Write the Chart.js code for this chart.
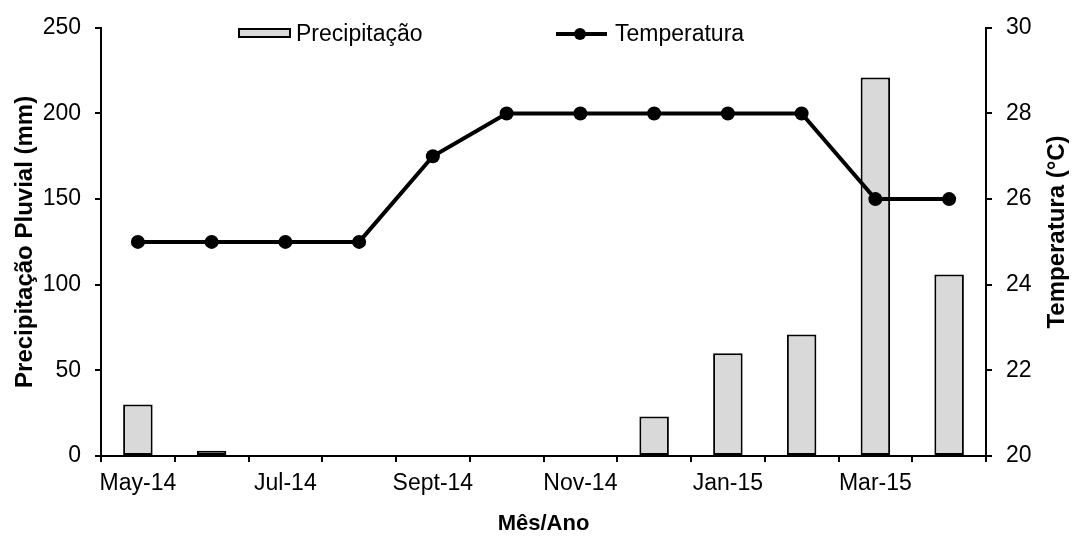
<!DOCTYPE html>
<html>
<head>
<meta charset="utf-8">
<script src="https://cdn.jsdelivr.net/npm/chart.js@4.4.1/dist/chart.umd.min.js"></script>
<style>
    body { margin: 0; background: #fff; }
    #wrap { width: 1072px; height: 536px; }
</style>
</head>
<body>
<div id="wrap"><canvas id="chart" width="1072" height="536"></canvas></div>
<script>
// Data
const months = ['May-14', 'Jun-14', 'Jul-14', 'Aug-14', 'Sept-14', 'Oct-14', 'Nov-14', 'Dec-14', 'Jan-15', 'Feb-15', 'Mar-15', 'Apr-15'];
const precipitacao = [30, 3, 0, 0, 0, 0, 0, 23, 60, 71, 221, 106];
const temperatura = [25, 25, 25, 25, 27, 28, 28, 28, 28, 28, 26, 26];
const leftTicks = [0, 50, 100, 150, 200, 250];
const rightTicks = [20, 22, 24, 26, 28, 30];

const FONT = '"Liberation Sans", Arial, sans-serif';
Chart.defaults.color = '#000';
Chart.defaults.font.family = FONT;

// Legend sits inside the plot, so draw it by hand
const insideLegend = {
    id: 'insideLegend',
    afterDraw(chart) {
        const ctx = chart.ctx;
        ctx.save();
        ctx.font = '23px ' + FONT;
        ctx.textBaseline = 'alphabetic';

        // Precipitação box
        ctx.fillStyle = '#d9d9d9';
        ctx.fillRect(239, 29, 51, 8);
        ctx.strokeStyle = '#000';
        ctx.lineWidth = 2;
        ctx.strokeRect(239, 29, 51, 8);
        ctx.fillStyle = '#000';
        ctx.fillText('Precipitação', 296, 41);

        // Temperatura line + marker
        ctx.beginPath();
        ctx.moveTo(556, 34);
        ctx.lineTo(607, 34);
        ctx.lineWidth = 4;
        ctx.stroke();
        ctx.beginPath();
        ctx.arc(580, 34, 6, 0, Math.PI * 2);
        ctx.fill();
        ctx.fillText('Temperatura', 615, 41);

        // Right axis title, reading bottom to top
        ctx.font = 'bold 24px ' + FONT;
        ctx.textAlign = 'center';
        ctx.textBaseline = 'middle';
        ctx.translate(1057, 232);
        ctx.rotate(-Math.PI / 2);
        ctx.fillText('Temperatura (°C)', 0, 0);
        ctx.restore();
    }
};

const axisGrid = {
    display: true,
    drawOnChartArea: false,
    drawTicks: true,
    tickLength: 6,
    color: '#000',
    lineWidth: 2
};

new Chart(document.getElementById('chart'), {
    type: 'bar',
    data: {
        labels: months,
        datasets: [
            {
                type: 'line',
                label: 'Temperatura',
                data: temperatura,
                yAxisID: 'y1',
                borderColor: '#000',
                backgroundColor: '#000',
                borderWidth: 4,
                pointRadius: 7,
                pointBackgroundColor: '#000',
                pointBorderWidth: 0,
                tension: 0,
                order: 0
            },
            {
                type: 'bar',
                label: 'Precipitação',
                data: precipitacao,
                yAxisID: 'y',
                backgroundColor: '#d9d9d9',
                borderColor: '#000',
                borderWidth: 2,
                borderSkipped: false,
                categoryPercentage: 1,
                barPercentage: 0.4,
                order: 1
            }
        ]
    },
    options: {
        responsive: false,
        animation: false,
        devicePixelRatio: 1,
        layout: { padding: { top: 25, left: 0, right: 0, bottom: 0 } },
        plugins: {
            legend: { display: false },
            tooltip: { enabled: false }
        },
        scales: {
            x: {
                offset: true,
                grid: { ...axisGrid, offset: true },
                border: { display: true, color: '#000', width: 2 },
                ticks: {
                    autoSkip: false,
                    maxRotation: 0,
                    padding: 8,
                    font: { size: 23 },
                    callback: (v, i) => (i % 2 === 0 ? months[i] : '')
                },
                title: {
                    display: true,
                    text: 'Mês/Ano',
                    font: { size: 22, weight: 'bold', lineHeight: 1 },
                    padding: { top: 0, bottom: 1 }
                },
                afterFit: s => { s.height = 80; }
            },
            y: {
                position: 'left',
                min: 0,
                max: 250,
                afterBuildTicks: s => { s.ticks = leftTicks.map(v => ({ value: v })); },
                grid: axisGrid,
                border: { display: true, color: '#000', width: 2 },
                ticks: { padding: 14, font: { size: 23 } },
                title: {
                    display: true,
                    text: 'Precipitação Pluvial (mm)',
                    font: { size: 24, weight: 'bold', lineHeight: 1 },
                    padding: { top: 13, bottom: 0 }
                },
                afterFit: s => { s.width = 101; }
            },
            y1: {
                position: 'right',
                min: 20,
                max: 30,
                afterBuildTicks: s => { s.ticks = rightTicks.map(v => ({ value: v })); },
                grid: axisGrid,
                border: { display: true, color: '#000', width: 2 },
                ticks: { padding: 14, font: { size: 23 } },
                title: { display: false },
                afterFit: s => { s.width = 86; }
            }
        }
    },
    plugins: [insideLegend]
});
</script>
</body>
</html>
